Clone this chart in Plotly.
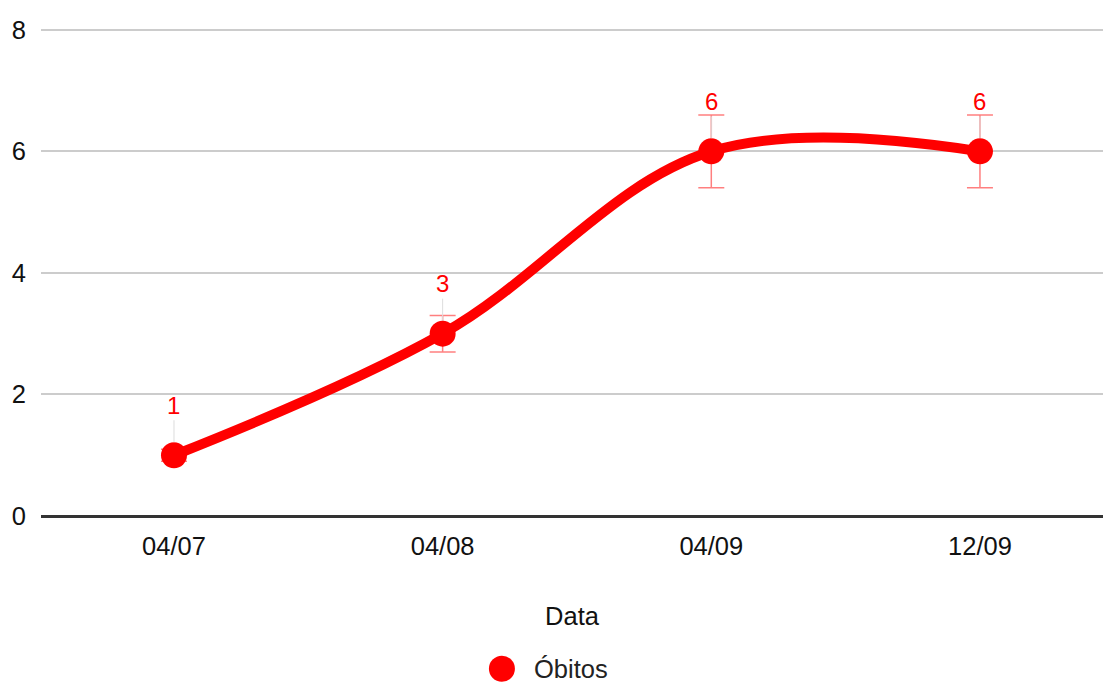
import plotly.graph_objects as go

categories = ["04/07", "04/08", "04/09", "12/09"]
obitos = [1, 3, 6, 6]
error_pct = 10
y_ticks = [0, 2, 4, 6, 8]
series_name = "Óbitos"

FONT = "Liberation Sans, Arial, sans-serif"
RED = "#ff0000"
FS = 25.5

xs = list(range(len(categories)))

fig = go.Figure()
fig.add_trace(go.Scatter(
    x=xs, y=obitos, name=series_name, mode="lines+markers", showlegend=False,
    line=dict(color=RED, width=10, shape="spline", smoothing=1.05),
    marker=dict(color=RED, size=26),
    error_y=dict(type="percent", value=error_pct, color="rgba(255,0,0,0.5)",
                 thickness=1.5, width=13),
))

for x, y in zip(xs, obitos):
    fig.add_annotation(x=x, y=y, xref="x", yref="y", text=str(y),
                       showarrow=True, arrowhead=0, arrowwidth=1,
                       arrowcolor="#dddddd", ax=0, ay=-50, standoff=13,
                       font=dict(family=FONT, size=24, color=RED))

# legend (large circle glyph like the reference)
LEG_Y = -0.313
fig.add_shape(type="circle", xref="paper", yref="paper",
              xsizemode="pixel", ysizemode="pixel",
              xanchor=0.434, yanchor=LEG_Y, x0=-13, x1=13, y0=-13, y1=13,
              fillcolor=RED, line=dict(width=0))
fig.add_annotation(x=0.4625, y=LEG_Y, xref="paper", yref="paper",
                   xanchor="left", yanchor="middle", showarrow=False,
                   text=series_name, font=dict(family=FONT, size=FS, color="#222222"))

fig.update_layout(
    width=1103, height=682,
    margin=dict(l=41, r=0, t=28, b=166, autoexpand=False),
    paper_bgcolor="white", plot_bgcolor="white",
    font=dict(family=FONT, size=FS, color="#222222"),
    showlegend=False,
    xaxis=dict(
        tickmode="array", tickvals=xs, ticktext=categories,
        range=[-0.495, 3.458], showgrid=False, zeroline=False,
        ticks="", showline=False, automargin=False, ticklabelstandoff=12,
        title=dict(text="Data", standoff=48, font=dict(size=FS, color="#111111")),
        tickfont=dict(size=FS, color="#111111"),
    ),
    yaxis=dict(
        range=[0, 8.03], tickvals=y_ticks, showgrid=True, gridcolor="#cccccc",
        gridwidth=1.5, zeroline=True, zerolinecolor="#333333", zerolinewidth=2.5,
        ticks="", ticklabelstandoff=14, automargin=False,
        tickfont=dict(size=FS, color="#111111"),
    ),
)

fig.write_html("out.html", config={"displayModeBar": False},
               post_script="document.body.style.margin='0';")
